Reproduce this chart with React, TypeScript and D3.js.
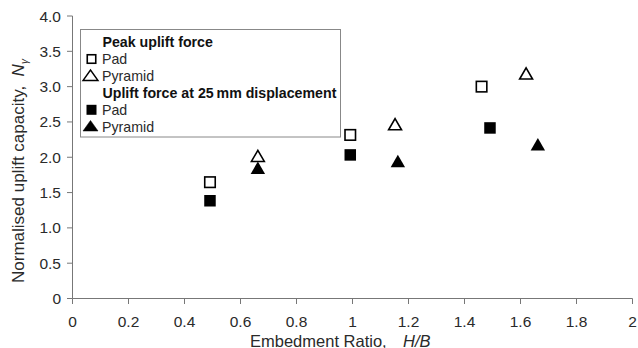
import React from "react";
import * as d3 from "d3";

const xTicks = [0, 0.2, 0.4, 0.6, 0.8, 1, 1.2, 1.4, 1.6, 1.8, 2];
const yTicks = [0, 0.5, 1.0, 1.5, 2.0, 2.5, 3.0, 3.5, 4.0];
const yTickLabels = ["0", "0.5", "1.0", "1.5", "2.0", "2.5", "3.0", "3.5", "4.0"];

const peakPadX = [0.491, 0.992, 1.461];
const peakPadY = [1.647, 2.316, 3.0];
const peakPyrX = [0.662, 1.152, 1.62];
const peakPyrY = [1.993, 2.442, 3.16];
const dispPadX = [0.491, 0.992, 1.491];
const dispPadY = [1.384, 2.033, 2.415];
const dispPyrX = [0.662, 1.162, 1.662];
const dispPyrY = [1.823, 1.916, 2.154];

const W = 638;
const H = 348;
const margin = { left: 72.5, right: 5.5, top: 16, bottom: 49.5 };
const FONT = "Liberation Sans, Arial, sans-serif";
const TXT = "#2a2a2a";
const AX = "#777";

export default function App() {
  const x = d3.scaleLinear().domain([0, 2]).range([margin.left, W - margin.right]);
  const y = d3.scaleLinear().domain([0, 4]).range([H - margin.bottom, margin.top]);
  const y0 = y(0);
  const sq = (cx: number, cy: number, filled: boolean, k: string, s = 11) => (
    <rect key={k} x={cx - s / 2} y={cy - s / 2} width={s} height={s}
      fill={filled ? "#000" : "#fff"} stroke="#000" strokeWidth={filled ? 0 : 1.6} />
  );
  const tri = (cx: number, cy: number, filled: boolean, k: string) => {
    const path = d3.symbol().type(d3.symbolTriangle).size(filled ? 90 : 72)();
    return (
      <path key={k} d={path as string} transform={`translate(${cx},${cy})`}
        fill={filled ? "#000" : "#fff"} stroke="#000" strokeWidth={filled ? 0 : 1.6} />
    );
  };
  const legTri = (cx: number, base: number, filled: boolean, k: string) => (
    <path key={k} d={`M${cx - 7.5},${base} L${cx + 7.5},${base} L${cx},${base - 10.5} Z`}
      fill={filled ? "#000" : "#fff"} stroke="#000" strokeWidth={filled ? 0.5 : 1.4} strokeLinejoin="miter" />
  );
  const lx = 80.5, ly = 29.5, lw = 260, lh = 107.5;
  return (
    <svg width={W} height={H} style={{ position: "absolute", left: 0, top: 0, background: "#fff" }}
      fontFamily={FONT}>
      {/* axes */}
      <line x1={margin.left} x2={W - margin.right} y1={y0} y2={y0} stroke={AX} strokeWidth={1} />
      <line x1={margin.left} x2={margin.left} y1={y0} y2={margin.top} stroke={AX} strokeWidth={1} />
      {xTicks.map((t, i) => (
        <g key={"xt" + i}>
          <line x1={x(t)} x2={x(t)} y1={y0} y2={y0 + 5.5} stroke={AX} />
          <text x={x(t)} y={y0 + 28} fontSize={15.5} fill={TXT} textAnchor="middle">{String(t)}</text>
        </g>
      ))}
      {yTicks.map((t, i) => (
        <g key={"yt" + i}>
          <line x1={margin.left - 5.5} x2={margin.left} y1={y(t)} y2={y(t)} stroke={AX} />
          <text x={61} y={y(t) + 5.5} fontSize={15.5} fill={TXT} textAnchor="end">{yTickLabels[i]}</text>
        </g>
      ))}
      <text x={250} y={346.5} fontSize={16.5} fill={TXT}>Embedment Ratio,</text>
      <text x={403} y={346.5} fontSize={16.5} fill={TXT} fontStyle="italic">H/B</text>
      <text transform={`translate(24,283) rotate(-90)`} fontSize={17} fill={TXT}>
        Normalised uplift capacity,{"\u00a0\u00a0"}<tspan fontStyle="italic">N</tspan>
        <tspan fontStyle="italic" fontSize={10} dy={4}>γ</tspan>
      </text>
      {/* legend */}
      <rect x={lx} y={ly} width={lw} height={lh} fill="#fff" stroke="#888" strokeWidth={1} />
      <text x={102.5} y={46.5} fontSize={14.2} fontWeight="bold" fill="#111">Peak uplift force</text>
      {sq(91.5, 59, false, "l1", 8.5)}
      <text x={102} y={63.5} fontSize={14.2} fill={TXT}>Pad</text>
      {legTri(90.5, 80.5, false, "l2")}
      <text x={102} y={81} fontSize={14.2} fill={TXT}>Pyramid</text>
      <text x={102.5} y={98.3} fontSize={14.2} fontWeight="bold" fill="#111">Uplift force at 25{"\u2009"}mm displacement</text>
      {sq(91.5, 109.8, true, "l3", 10)}
      <text x={102} y={115} fontSize={14.2} fill={TXT}>Pad</text>
      {legTri(90.5, 131, true, "l4")}
      <text x={102} y={131.7} fontSize={14.2} fill={TXT}>Pyramid</text>
      {/* data */}
      {peakPadX.map((v, i) => sq(x(v), y(peakPadY[i]), false, "a" + i, 10.5))}
      {peakPyrX.map((v, i) => tri(x(v), y(peakPyrY[i]), false, "b" + i))}
      {dispPadX.map((v, i) => sq(x(v), y(dispPadY[i]), true, "c" + i, 11.5))}
      {dispPyrX.map((v, i) => tri(x(v), y(dispPyrY[i]), true, "d" + i))}
    </svg>
  );
}
